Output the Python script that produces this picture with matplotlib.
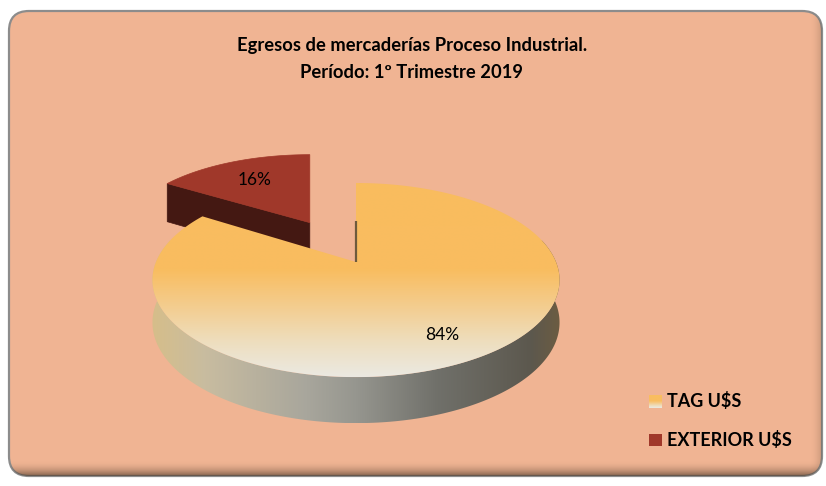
import numpy as np
import matplotlib
matplotlib.use("Agg")
import matplotlib.pyplot as plt
from matplotlib.patches import Polygon, FancyBboxPatch, Rectangle

# ---- data -------------------------------------------------------------
categories = ["TAG U$S", "EXTERIOR U$S"]
shares = [84, 16]
title_lines = ["Egresos de mercaderías Proceso Industrial.",
               "Período: 1º Trimestre 2019"]

# ---- style ------------------------------------------------------------
BG = "#F0B493"
RED_TOP = "#A0382A"
RED_SIDE = "#441812"
TOP_STOPS = [(0.00, (249, 188, 94)), (0.45, (249, 189, 96)),
             (0.65, (243, 206, 146)), (0.82, (238, 222, 190)),
             (1.00, (235, 233, 226))]
SIDE_STOPS = [(0.00, (214, 190, 138)), (0.13, (200, 188, 160)),
              (0.38, (168, 166, 156)), (0.50, (150, 150, 143)),
              (0.70, (112, 112, 106)), (0.93, (92, 88, 78)),
              (1.00, (108, 92, 66))]

W, H = 826, 486
fig = plt.figure(figsize=(W / 100, H / 100), dpi=100)
ax = fig.add_axes([0, 0, 1, 1])
ax.set_xlim(0, W)
ax.set_ylim(H, 0)
ax.axis("off")
fig.patch.set_facecolor("white")


def ramp(stops, n=256):
    pos = np.array([s[0] for s in stops])
    cols = np.array([s[1] for s in stops], dtype=float) / 255.0
    t = np.linspace(0, 1, n)
    return np.stack([np.interp(t, pos, cols[:, i]) for i in range(3)], axis=-1)


# ---- chart area frame with soft inner shadow ---------------------------
frame = FancyBboxPatch((9, 11), 813, 465,
                       boxstyle="round,pad=0,rounding_size=20",
                       facecolor=BG, edgecolor="#8C8C8C", linewidth=1.6,
                       zorder=0)
ax.add_patch(frame)
shade = np.zeros((20, 1, 4))
shade[..., :3] = (0.30, 0.22, 0.16)
shade[:, 0, 3] = np.linspace(0, 0.85, 20) ** 2
im = ax.imshow(shade, extent=(9, 822, 477, 460), aspect="auto",
               interpolation="bilinear", zorder=0.5)
im.set_clip_path(frame)
shade_r = np.zeros((1, 14, 4))
shade_r[..., :3] = (0.30, 0.22, 0.16)
shade_r[0, :, 3] = np.linspace(0, 0.5, 14) ** 2
im = ax.imshow(shade_r, extent=(809, 823, 477, 11), aspect="auto",
               interpolation="bilinear", zorder=0.5)
im.set_clip_path(frame)

# ---- 3-D pie geometry (perspective view) -------------------------------
CX, CY = 356, 262          # centre of the top face
RA, RB = 200, 93.7         # horizontal / depth radii
KP = 0.186                 # depth perspective
THICK, KT = 41.7, 0.094    # side height and its perspective
EXPLODE = [0.0, 0.52]
LABEL_R = [0.78, 0.68]


def proj(u, w, z=0.0, anchor=(0.0, 0.0)):
    """Project disk coords (u right, w away, z up) to pixels.
    Horizontal foreshortening is taken relative to the slice's own apex."""
    u = np.asarray(u, float)
    w = np.asarray(w, float)
    z = np.asarray(z, float)
    ua, wa = anchor
    fa = 1.0 / (1.0 + KP * wa)
    f = 1.0 / (1.0 + KP * w)
    g = 1.0 / (1.0 + KT * w)
    x = CX + RA * (ua * fa + (u - ua) * f)
    y = CY - RB * w * f - THICK * z * g
    return x, y


def gradient_fill(xy, stops, vertical, z):
    poly = Polygon(xy, closed=True, facecolor="none", edgecolor="none",
                   transform=ax.transData)
    ax.add_patch(poly)
    x0, y0 = xy.min(axis=0)
    x1, y1 = xy.max(axis=0)
    col = ramp(stops)
    img = col[:, None, :] if vertical else col[None, :, :]
    im = ax.imshow(img, extent=(x0, x1, y1, y0), aspect="auto",
                   interpolation="bilinear", zorder=z)
    im.set_clip_path(poly)
    return im


# slice angle ranges, starting at 12 o'clock, clockwise
total = float(sum(shares))
starts, ends = [], []
a = 90.0
for v in shares:
    starts.append(a)
    a -= 360.0 * v / total
    ends.append(a)

slices = []
for i, v in enumerate(shares):
    t0, t1 = np.radians(starts[i]), np.radians(ends[i])
    mid = 0.5 * (t0 + t1)
    ou, ow = EXPLODE[i] * np.cos(mid), EXPLODE[i] * np.sin(mid)
    tt = np.linspace(t0, t1, 300)
    au, aw = ou + np.cos(tt), ow + np.sin(tt)
    slices.append(dict(t0=t0, t1=t1, mid=mid, ou=ou, ow=ow, au=au, aw=aw))

# exploded slice (sits behind): radial wall on its leading edge, then its top
s = slices[1]
apex = (s["ou"], s["ow"])
ex, ey = proj([s["ou"], s["au"][0], s["au"][0], s["ou"]],
              [s["ow"], s["aw"][0], s["aw"][0], s["ow"]],
              [0, 0, -1, -1], anchor=apex)
ax.add_patch(Polygon(np.column_stack([ex, ey]), closed=True,
                     facecolor=RED_SIDE, edgecolor=RED_SIDE, lw=0.5, zorder=2))
tx, ty = proj(np.r_[s["ou"], s["au"]], np.r_[s["ow"], s["aw"]], anchor=apex)
ax.add_patch(Polygon(np.column_stack([tx, ty]), closed=True,
                     facecolor=RED_TOP, edgecolor=RED_TOP, lw=0.5, zorder=3))

# main slice: outer wall with horizontal shading, then top face
s = slices[0]
front = np.sin(np.linspace(s["t0"], s["t1"], 300)) < 0.25
su, sw = s["au"][front], s["aw"][front]
x_top, y_top = proj(su, sw, 0)
x_bot, y_bot = proj(su, sw, -1)
side_xy = np.column_stack([np.r_[x_top, x_bot[::-1]], np.r_[y_top, y_bot[::-1]]])
gradient_fill(side_xy, SIDE_STOPS, vertical=False, z=4)

tx, ty = proj(np.r_[s["ou"], s["au"]], np.r_[s["ow"], s["aw"]])
top_xy = np.column_stack([tx, ty])
gradient_fill(top_xy, TOP_STOPS, vertical=True, z=5)

# radial wall of the main slice at 12 o'clock, seen edge-on
lx, ly = proj([0, 0], [1, 0], [-1, 0])
ax.plot(lx, ly, color="#6E5A3C", lw=1.6, zorder=6, solid_capstyle="butt")

# ---- data labels -------------------------------------------------------
for i, v in enumerate(shares):
    s = slices[i]
    r = EXPLODE[i] + LABEL_R[i]
    lx, ly = proj(r * np.cos(s["mid"]), r * np.sin(s["mid"]),
                  anchor=(s["ou"], s["ow"]))
    ax.text(float(lx), float(ly), f"{v:.0f}%", ha="center", va="center",
            fontsize=12.5, family="Lato", color="black", zorder=7)

# ---- title -------------------------------------------------------------
ax.text(W / 2 - 1, 46, title_lines[0], ha="center", va="center",
        fontsize=13.2, family="Lato", weight="bold", zorder=7)
ax.text(W / 2 - 1, 72, title_lines[1], ha="center", va="center",
        fontsize=13.2, family="Lato", weight="bold", zorder=7)

# ---- legend ------------------------------------------------------------
leg_y = [401, 440]
for i, name in enumerate(categories):
    if i == 0:
        sq = np.array([[649, leg_y[i] - 6.5], [662, leg_y[i] - 6.5],
                       [662, leg_y[i] + 6.5], [649, leg_y[i] + 6.5]])
        gradient_fill(sq, TOP_STOPS[1:], vertical=True, z=7)
    else:
        ax.add_patch(Rectangle((649, leg_y[i] - 6), 13, 12, facecolor=RED_TOP,
                               edgecolor="none", zorder=7))
    ax.text(667, leg_y[i], name, ha="left", va="center", fontsize=13,
            family="Lato", weight="bold", zorder=7)

fig.savefig("out.png", dpi=100, facecolor="white")
